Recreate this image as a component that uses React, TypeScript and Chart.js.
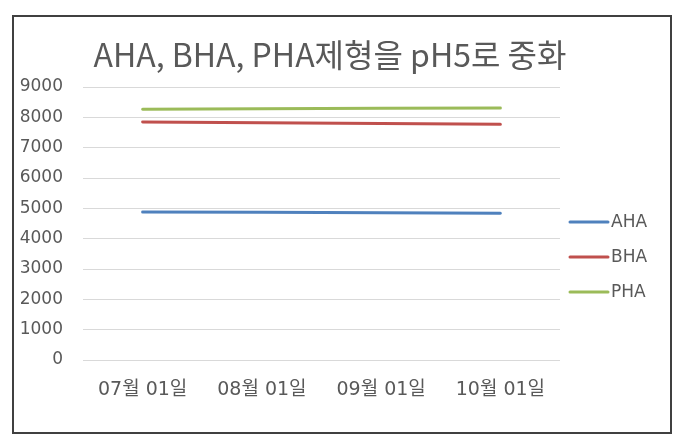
import React, { useEffect, useRef } from 'react';
import { Chart, registerables } from 'chart.js';

Chart.register(...registerables);

const titleText = 'AHA, BHA, PHA제형을 pH5로 중화';
const categories = ['07월 01일', '08월 01일', '09월 01일', '10월 01일'];
const seriesNames = ['AHA', 'BHA', 'PHA'];
const ahaValues = [4880, 4870, 4855, 4840];
const bhaValues = [7850, 7822, 7795, 7768];
const phaValues = [8270, 8284, 8296, 8310];
const seriesColors = ['#4F81BD', '#C0504D', '#9BBB59'];
const yMin = 0;
const yMax = 9000;
const yStep = 1000;

const TEXT_COLOR = '#595959';

const frameTitleLegend = {
  id: 'frameTitleLegend',
  beforeDraw(chart: any) {
    const ctx = chart.ctx;
    ctx.save();
    ctx.fillStyle = '#ffffff';
    ctx.fillRect(0, 0, chart.width, chart.height);
    ctx.restore();
  },
  afterDraw(chart: any) {
    const ctx = chart.ctx;
    ctx.save();
    // outer frame
    ctx.strokeStyle = '#404040';
    ctx.lineWidth = 2;
    ctx.strokeRect(13, 16, 658, 417);
    // title
    ctx.fillStyle = TEXT_COLOR;
    ctx.font = '32px "Noto Sans CJK KR"';
    ctx.textAlign = 'center';
    ctx.textBaseline = 'alphabetic';
    ctx.fillText(titleText, 330, 67);
    // legend
    const area = chart.chartArea;
    const x0 = area.right + 10;
    let y = 222;
    chart.data.datasets.forEach((ds: any) => {
      ctx.strokeStyle = ds.borderColor;
      ctx.lineWidth = 3;
      ctx.lineCap = 'round';
      ctx.beginPath();
      ctx.moveTo(x0, y);
      ctx.lineTo(x0 + 38, y);
      ctx.stroke();
      ctx.fillStyle = TEXT_COLOR;
      ctx.font = '17px "DejaVu Sans"';
      ctx.textBaseline = 'middle';
      ctx.textAlign = 'left';
      ctx.fillText(ds.label, x0 + 41, y + 1);
      y += 35;
    });
    ctx.restore();
  },
};

export default function App() {
  const canvasRef = useRef<HTMLCanvasElement | null>(null);

  useEffect(() => {
    document.body.style.margin = '0';
    const canvas = canvasRef.current;
    if (!canvas) return;
    const seriesValues = [ahaValues, bhaValues, phaValues];
    const chart = new Chart(canvas, {
      type: 'line',
      data: {
        labels: categories,
        datasets: seriesNames.map((name, i) => ({
          label: name,
          data: seriesValues[i],
          borderColor: seriesColors[i],
          backgroundColor: seriesColors[i],
          borderWidth: 3,
          borderCapStyle: 'round' as const,
          pointRadius: 0,
          tension: 0,
          fill: false,
        })),
      },
      options: {
        responsive: false,
        animation: false,
        devicePixelRatio: 1,
        layout: { padding: { left: 14, right: 120, top: 87, bottom: 40 } },
        plugins: {
          legend: { display: false },
          tooltip: { enabled: false },
          title: { display: false },
        },
        scales: {
          x: {
            type: 'category',
            offset: true,
            grid: { display: false, drawTicks: false },
            border: { display: false },
            ticks: {
              color: TEXT_COLOR,
              padding: 19,
              maxRotation: 0,
              autoSkip: false,
              font: { family: '"DejaVu Sans", "Noto Sans CJK KR"', size: 19 },
            },
            afterFit: (scale: any) => {
              scale.height = 48;
            },
          },
          y: {
            min: yMin,
            max: yMax,
            grid: { color: '#D9D9D9', lineWidth: 1, drawTicks: false },
            border: { display: false },
            ticks: {
              stepSize: yStep,
              color: TEXT_COLOR,
              padding: 20,
              font: { family: '"DejaVu Sans"', size: 17 },
              callback: (value: any) => String(value),
            },
            afterFit: (scale: any) => {
              scale.width = 69;
            },
          },
        },
      },
      plugins: [frameTitleLegend],
    });
    return () => chart.destroy();
  }, []);

  return (
    <div style={{ width: 680, height: 448 }}>
      <canvas ref={canvasRef} width={680} height={448} />
    </div>
  );
}
